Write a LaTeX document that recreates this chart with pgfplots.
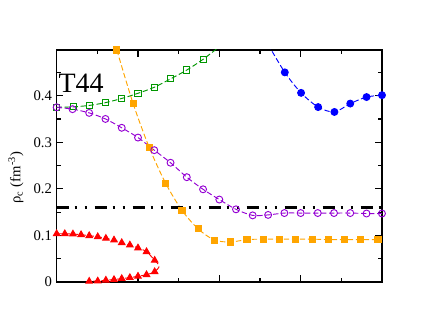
\documentclass[border=0pt]{standalone}
\usepackage{fontspec}
\setmainfont{Liberation Serif}
\usepackage{pgfplots}
\pgfplotsset{compat=1.18}
\definecolor{cgreen}{RGB}{0,150,0}
\definecolor{corange}{RGB}{255,165,0}
\definecolor{cviolet}{RGB}{148,0,211}
\definecolor{cblue}{RGB}{0,0,255}
\definecolor{cred}{RGB}{255,0,0}
\begin{document}
\begin{tikzpicture}
\begin{axis}[
  scale only axis,
  width=244pt, height=174pt,
  xmin=0, xmax=8, ymin=0, ymax=0.498,
  xtick={0,2,4,6,8}, minor xtick={1,3,5,7},
  xticklabels={},
  ytick={0,0.1,0.2,0.3,0.4},
  yticklabels={0,0.1,0.2,0.3,0.4},
  minor ytick={0.05,0.15,0.25,0.35,0.45},
  tick align=inside,
  major tick length=5pt, minor tick length=3pt,
  axis line style={line width=1.1pt},
  every tick/.style={black, line width=0.9pt},
  tick label style={font=\fontsize{11}{12}\selectfont},
  /pgf/number format/assume math mode=true,
  ylabel={ρ\textsubscript{c} (fm\textsuperscript{-3})},
  ylabel style={font=\fontsize{11}{12}\selectfont, at={(rel axis cs:-0.125,0.45)}, anchor=center},
  clip=true,
]
% green open squares
\addplot[cgreen, line width=0.7pt, dash pattern=on 4pt off 2pt, smooth,
  mark=square, mark size=2.3pt, mark options={solid, line width=0.7pt}]
  coordinates {(0,0.375) (0.41,0.376) (0.80,0.379) (1.2,0.385) (1.6,0.394) (2.0,0.405)
  (2.4,0.418) (2.8,0.436) (3.2,0.455) (3.6,0.478) (4.0,0.505)};
% orange filled squares
\addplot[corange, line width=0.7pt, dash pattern=on 4pt off 2pt, smooth,
  mark=square*, mark size=2.3pt, mark options={solid}]
  coordinates {(1.48,0.498) (1.88,0.383) (2.28,0.288) (2.68,0.212) (3.08,0.154)
  (3.48,0.114) (3.88,0.090) (4.28,0.086) (4.68,0.091) (5.08,0.092) (5.48,0.092)
  (5.88,0.092) (6.28,0.092) (6.68,0.091) (7.08,0.091) (7.48,0.091) (7.90,0.091)};
% violet open circles
\addplot[cviolet, line width=0.7pt, dash pattern=on 4pt off 2pt, smooth,
  mark=o, mark size=2.6pt, mark options={solid, line width=0.7pt}]
  coordinates {(0,0.375) (0.39,0.371) (0.80,0.363) (1.2,0.350) (1.6,0.331) (2.0,0.310)
  (2.4,0.283) (2.8,0.256) (3.2,0.225) (3.6,0.199) (4.0,0.177) (4.41,0.156)
  (4.82,0.143) (5.2,0.144) (5.6,0.148) (6.0,0.148) (6.42,0.148) (6.82,0.148)
  (7.22,0.148) (7.62,0.147) (8.0,0.147)};
% blue filled circles
\addplot[cblue, line width=0.7pt, dash pattern=on 4pt off 2pt, smooth,
  mark=*, mark size=2.6pt, mark options={solid}]
  coordinates {(5.2,0.51) (5.61,0.450) (6.01,0.406) (6.43,0.3755) (6.83,0.365)
  (7.22,0.383) (7.62,0.397) (8.0,0.401)};
% red triangles (turning point at index 14 carries no mark)
\addplot[cred, line width=0.7pt, dash pattern=on 4pt off 2pt, smooth,
  mark=triangle*, mark size=2.8pt, mark options={solid},
  mark indices={1,...,13,15,16,17,18,19,20,21,22,23}]
  coordinates {(0,0.1036) (0.2,0.1036) (0.4,0.103) (0.6,0.1015) (0.8,0.0994)
  (1.01,0.0972) (1.21,0.0937) (1.41,0.0901) (1.6,0.0844) (1.8,0.0794) (2.0,0.073)
  (2.21,0.065) (2.41,0.0465) (2.52,0.034) (2.41,0.022) (2.21,0.0157) (2.0,0.0123) (1.8,0.0094)
  (1.6,0.0073) (1.41,0.0052) (1.21,0.0039) (1.01,0.0021) (0.8,0.0015)};
% dash-dot-dot reference line
\addplot[black, line width=1.6pt, dash pattern=on 9pt off 4.5pt on 1.5pt off 6pt on 1.5pt off 6pt]
  coordinates {(0,0.16) (8,0.16)};
\node[anchor=south west, inner sep=0pt, font=\fontsize{21}{22}\selectfont]
  at (rel axis cs:0.005,0.815) {T44};
\end{axis}
\path[use as bounding box] (-42.5pt,-37.5pt) rectangle (280pt,211.5pt);
\end{tikzpicture}
\end{document}
